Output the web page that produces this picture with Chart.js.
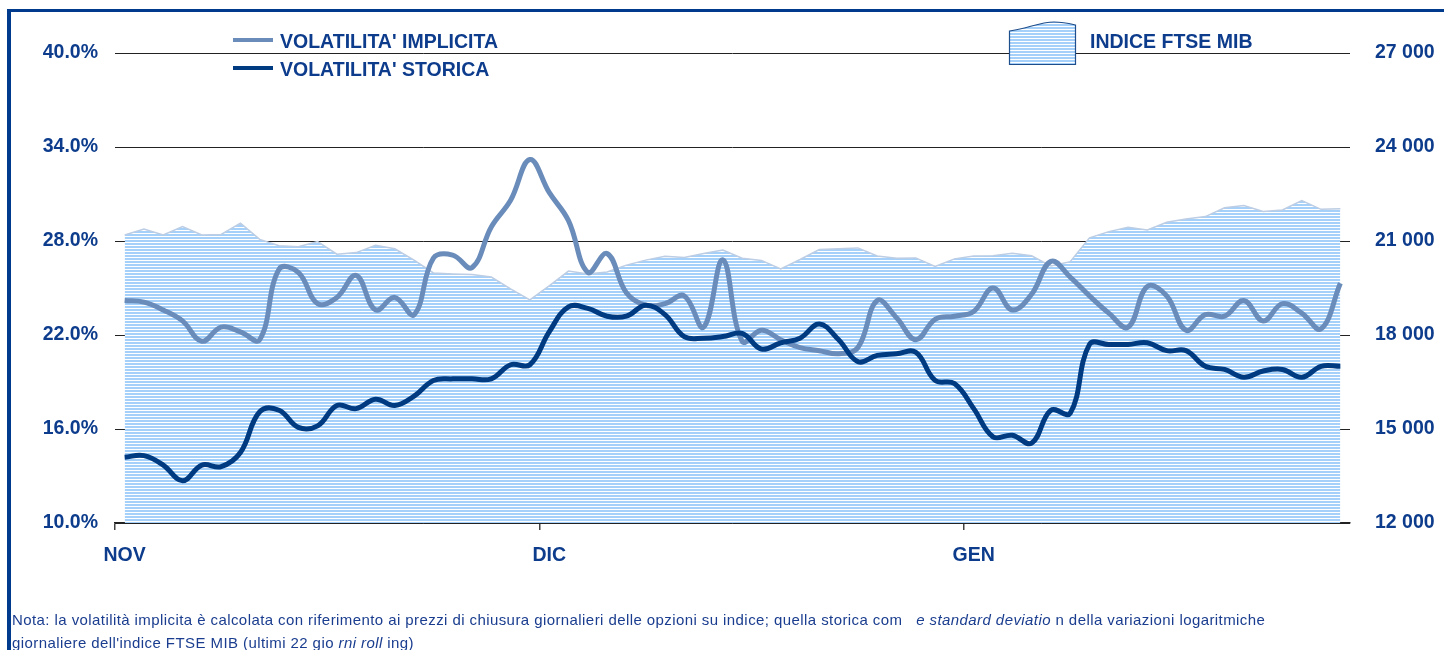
<!DOCTYPE html>
<html lang="it">
<head>
<meta charset="UTF-8">
<title>Volatilità FTSE MIB</title>
<script src="https://cdn.jsdelivr.net/npm/chart.js"></script>
<style>
  body { margin: 0; background: #fff; font-family: 'Liberation Sans', Arial, sans-serif; }
  #wrap { position: relative; width: 1444px; height: 650px; overflow: hidden; }
  #frame { position: absolute; left: 7px; top: 9px; right: 0; bottom: -10px; border-top: 3.5px solid #003a8c; border-left: 4px solid #003a8c; }
  canvas { position: absolute; left: 0; top: 0; }
  .leg { position: absolute; font-weight: bold; font-size: 19.5px; color: #0d3c8c; white-space: nowrap; line-height: 20px; }
  .sw { position: absolute; width: 40px; height: 4px; }
  .note { position: absolute; left: 12px; font-size: 15px; letter-spacing: 0.42px; color: #1a3d8f; white-space: pre; line-height: 16px; }
</style>
</head>
<body>
<div id="wrap">
  <div id="frame"></div>
  <canvas id="myChart" width="1444" height="650"></canvas>

  <div class="sw" style="left:233px; top:38px; background:#6a8cbb;"></div>
  <div class="leg" style="left:280px; top:31px;">VOLATILITA' IMPLICITA</div>
  <div class="sw" style="left:233px; top:66px; background:#003a80;"></div>
  <div class="leg" style="left:280px; top:59px;">VOLATILITA' STORICA</div>

  <svg style="position:absolute; left:1005px; top:18px;" width="76" height="52">
    <defs>
      <pattern id="st" width="4" height="3" patternUnits="userSpaceOnUse">
        <rect width="4" height="3" fill="#ffffff"/>
        <rect width="4" height="2" fill="#a4d0fa"/>
      </pattern>
    </defs>
    <path d="M4.5,13 C22,11 34,4 49,4 C60,4 70,7 70.5,7 L70.5,46.5 L4.5,46.5 Z" fill="url(#st)" stroke="#1f4e8c" stroke-width="1.2"/>
  </svg>
  <div class="leg" style="left:1090px; top:31px;">INDICE FTSE MIB</div>

  <div class="note" style="top:612px;">Nota: la volatilità implicita è calcolata con riferimento ai prezzi di chiusura giornalieri delle opzioni su indice; quella storica com   <i>e standard deviatio</i> n della variazioni logaritmiche</div>
  <div class="note" style="top:635px;">giornaliere dell'indice FTSE MIB (ultimi 22 gio <i>rni roll</i> ing)</div>
</div>

<script>
    // month labels and the category where each month begins
    const monthNames = ['NOV', 'DIC', 'GEN'];
    const monthStart = [0, 22, 44];
    const nDays = 64;

    // INDICE FTSE MIB (right axis)
    const ftse = [21190, 21380, 21190, 21460, 21190, 21210, 21570, 21050, 20850, 20820,
        20980, 20580, 20630, 20860, 20750, 20390, 19980, 19950, 19930, 19850,
        19470, 19120, 19570, 20040, 19950, 20010, 20230, 20390, 20510, 20470,
        20600, 20710, 20450, 20380, 20110, 20410, 20730, 20750, 20780, 20520,
        20450, 20460, 20190, 20430, 20520, 20530, 20610, 20530, 20200, 20340,
        21100, 21300, 21440, 21350, 21600, 21700, 21780, 22060, 22130, 21940,
        21990, 22290, 22010, 22030];

    // volatilita' implicita (%)
    const implied = [24.2, 24.1, 23.6, 22.9, 21.6, 22.5, 22.2, 21.7, 26.2, 26.0,
        24.0, 24.4, 25.8, 23.6, 24.4, 23.3, 26.9, 27.1, 26.3, 28.9,
        30.6, 33.2, 31.1, 29.3, 26.0, 27.2, 24.7, 23.9, 24.0, 24.5,
        22.5, 26.8, 21.6, 22.3, 21.7, 21.2, 21.0, 20.8, 21.2, 24.2,
        23.1, 21.7, 23.0, 23.2, 23.5, 25.0, 23.6, 24.6, 26.7, 25.7,
        24.5, 23.4, 22.5, 25.1, 24.5, 22.3, 23.3, 23.2, 24.2, 22.9,
        24.0, 23.4, 22.4, 25.3];

    // volatilita' storica (%)
    const historical = [14.2, 14.3, 13.7, 12.7, 13.7, 13.6, 14.5, 17.1, 17.2, 16.1,
        16.2, 17.5, 17.3, 17.9, 17.5, 18.1, 19.1, 19.2, 19.2, 19.2,
        20.1, 20.1, 22.2, 23.8, 23.7, 23.2, 23.2, 23.9, 23.3, 21.9,
        21.8, 21.9, 22.1, 21.1, 21.5, 21.8, 22.7, 21.7, 20.3, 20.7,
        20.8, 20.9, 19.1, 18.9, 17.3, 15.5, 15.6, 15.1, 17.2, 17.0,
        21.4, 21.4, 21.4, 21.5, 21.0, 21.0, 20.0, 19.8, 19.3, 19.7,
        19.8, 19.3, 20.0, 20.0];

    const volTicks = { min: 10, max: 40, step: 6 };
    const ftseTicks = { min: 12000, max: 27000, step: 3000 };

    var labels = [];
    for (var i = 0; i < nDays; i++) {
        var m = monthStart.indexOf(i);
        labels.push(m >= 0 ? monthNames[m] : '');
    }

    var ctx = document.getElementById('myChart').getContext('2d');

    // striped fill like the original area
    function stripes() {
        var c = document.createElement('canvas');
        c.width = 4; c.height = 3;
        var g = c.getContext('2d');
        g.fillStyle = '#ffffff';
        g.fillRect(0, 0, 4, 3);
        g.fillStyle = '#a4d0fa';
        g.fillRect(0, 0, 4, 2);
        return ctx.createPattern(c, 'repeat');
    }

    var tickFont = { family: "'Liberation Sans', Arial, sans-serif", size: 19.5, weight: 'bold' };
    var tickColor = '#0d3c8c';

    var myChart = new Chart(ctx, {
        type: 'line',
        data: {
            labels: labels,
            datasets: [
                {
                    label: "VOLATILITA' STORICA",
                    data: historical,
                    yAxisID: 'y',
                    borderColor: '#003a80',
                    borderWidth: 5,
                    tension: 0.4,
                    pointRadius: 0,
                    fill: false,
                    order: 1
                },
                {
                    label: "VOLATILITA' IMPLICITA",
                    data: implied,
                    yAxisID: 'y',
                    borderColor: '#6a8cbb',
                    borderWidth: 5,
                    tension: 0.4,
                    pointRadius: 0,
                    fill: false,
                    order: 2
                },
                {
                    label: 'INDICE FTSE MIB',
                    data: ftse,
                    yAxisID: 'y1',
                    borderColor: '#bccde4',
                    borderWidth: 1.5,
                    backgroundColor: stripes(),
                    tension: 0,
                    pointRadius: 0,
                    fill: 'start',
                    order: 3
                }
            ]
        },
        options: {
            responsive: false,
            animation: false,
            devicePixelRatio: 1,
            layout: { padding: { top: 53, left: 0, right: 0, bottom: 0 } },
            plugins: { legend: { display: false }, tooltip: { enabled: false } },
            scales: {
                x: {
                    offset: true,
                    afterFit: function (s) { s.height = 127; },
                    border: { display: true, color: '#222', width: 1.5 },
                    grid: {
                        offset: true,
                        drawOnChartArea: false,
                        tickLength: 7,
                        color: function (c) { return monthStart.indexOf(c.index) >= 0 ? '#444' : 'rgba(0,0,0,0)'; },
                        lineWidth: 1.5
                    },
                    ticks: { autoSkip: false, maxRotation: 0, padding: 14, font: tickFont, color: tickColor }
                },
                y: {
                    position: 'left',
                    min: volTicks.min,
                    max: volTicks.max,
                    afterFit: function (s) { s.width = 115; },
                    border: { display: false },
                    grid: { color: '#222', lineWidth: 1, drawTicks: false },
                    ticks: {
                        stepSize: volTicks.step,
                        padding: 17,
                        font: tickFont,
                        color: tickColor,
                        callback: function (v) { return v.toFixed(1) + '%'; }
                    }
                },
                y1: {
                    position: 'right',
                    min: ftseTicks.min,
                    max: ftseTicks.max,
                    afterFit: function (s) { s.width = 94; },
                    border: { display: false },
                    grid: { display: false },
                    ticks: {
                        stepSize: ftseTicks.step,
                        padding: 17,
                        font: tickFont,
                        color: tickColor,
                        callback: function (v) { return String(v).replace(/\B(?=(\d{3})+(?!\d))/g, ' '); }
                    }
                }
            }
        }
    });
</script>
</body>
</html>
